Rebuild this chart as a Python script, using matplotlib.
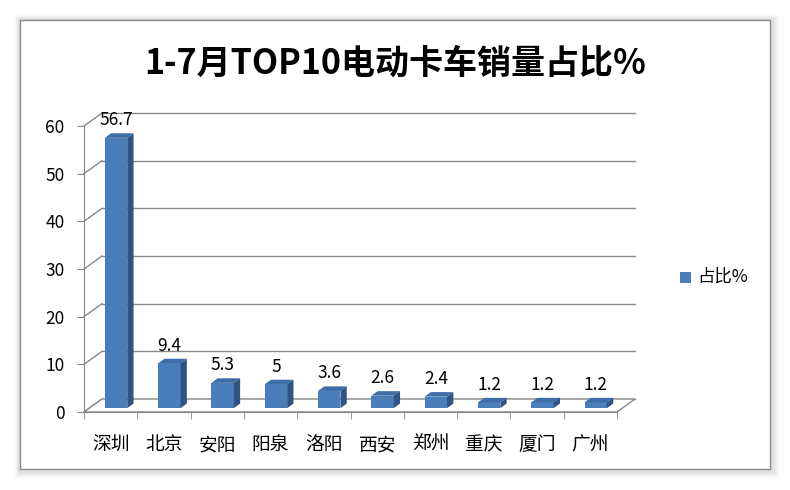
import matplotlib.pyplot as plt
from matplotlib.patches import Rectangle, Polygon

plt.rcParams['font.family'] = ['Noto Sans CJK SC', 'DejaVu Sans']

cities = ['深圳', '北京', '安阳', '阳泉', '洛阳', '西安', '郑州', '重庆', '厦门', '广州']
share = [56.7, 9.4, 5.3, 5, 3.6, 2.6, 2.4, 1.2, 1.2, 1.2]
labels = ['56.7', '9.4', '5.3', '5', '3.6', '2.6', '2.4', '1.2', '1.2', '1.2']
title = '1-7月TOP10电动卡车销量占比%'
legend_name = '占比%'

W, H = 790, 490
fig = plt.figure(figsize=(W / 100, H / 100), dpi=100)

# frame with soft shadow
for k in range(8, 0, -1):
    fig.patches.append(Rectangle(((20 - k * 0.6) / W, (H - 469 - k * 1.2) / H),
                                 (750 + k * 1.8) / W, (449 + k * 1.8) / H,
                                 transform=fig.transFigure, facecolor='black',
                                 alpha=0.018, edgecolor='none', zorder=0))
fig.patches.append(Rectangle((20 / W, (H - 469) / H), 750 / W, 449 / H,
                             transform=fig.transFigure, facecolor='white',
                             edgecolor='#8c8c8c', linewidth=1.0, zorder=1))

# front plane of the plot box
x0, x1, y0, y1 = 84, 617, 412, 126
ax = fig.add_axes([x0 / W, (H - y0) / H, (x1 - x0) / W, (y0 - y1) / H])
ax.set_zorder(5)
ax.set_xlim(-0.5, 9.5)
ax.set_ylim(0, 60)
ax.patch.set_alpha(0)

# depth offset in data units
dx = 18 / ((x1 - x0) / 10)
dy = 13 / ((y0 - y1) / 60)
grid_c = '#888888'

# back wall gridlines and side wall diagonals
for v in range(0, 70, 10):
    ax.plot([-0.5 + dx, 9.5 + dx], [v + dy, v + dy], color=grid_c, lw=1.0,
            clip_on=False, zorder=1)
    ax.plot([-0.5, -0.5 + dx], [v, v + dy], color=grid_c, lw=1.0,
            clip_on=False, zorder=1)

# floor
ax.add_patch(Polygon([(-0.5, 0), (9.5, 0), (9.5 + dx, dy), (-0.5 + dx, dy)],
                     closed=True, facecolor='white', edgecolor=grid_c, lw=1.0,
                     clip_on=False, zorder=2))

# 3D bars
f0, f1 = 0.3, 0.65
hw = 0.21
front_c, top_c, side_c = '#4A7EBB', '#3E6DA8', '#2E5482'
for i, v in enumerate(share):
    cx = i + f0 * dx
    by = f0 * dy
    bl, br = cx - hw, cx + hw
    ox, oy = (f1 - f0) * dx, (f1 - f0) * dy
    ax.add_patch(Polygon([(bl, by), (br, by), (br, by + v), (bl, by + v)],
                         facecolor=front_c, edgecolor='none', clip_on=False, zorder=5))
    ax.add_patch(Polygon([(bl, by + v), (br, by + v), (br + ox, by + v + oy), (bl + ox, by + v + oy)],
                         facecolor=top_c, edgecolor='none', clip_on=False, zorder=5))
    ax.add_patch(Polygon([(br, by), (br + ox, by + oy), (br + ox, by + v + oy), (br, by + v)],
                         facecolor=side_c, edgecolor='none', clip_on=False, zorder=5))
    ax.annotate(labels[i], (cx, by + v + oy), xytext=(0, 3), textcoords='offset points',
                ha='center', va='bottom', fontsize=12.5, color='black', zorder=6)

# axes styling
for s in ['top', 'right']:
    ax.spines[s].set_visible(False)
for s in ['left', 'bottom']:
    ax.spines[s].set_color(grid_c)
    ax.spines[s].set_zorder(3)
ax.set_yticks(range(0, 70, 10))
ax.tick_params(axis='y', colors=grid_c, length=5, labelsize=12.5, labelcolor='black', pad=9)
ax.set_xticks(range(10))
ax.set_xticklabels(cities)
ax.set_xticks([i - 0.5 for i in range(11)], minor=True)
ax.tick_params(axis='x', which='major', length=0, labelsize=13.5, pad=16)
ax.tick_params(axis='x', which='minor', length=5, color=grid_c)

fig.text(395 / W, 1 - 63 / H, title, ha='center', va='center', fontsize=24.5,
         fontweight='bold')

# legend
fig.patches.append(Rectangle((680 / W, 1 - 283 / H), 11 / W, 11 / H,
                             transform=fig.transFigure, facecolor=front_c,
                             edgecolor='none', zorder=3))
fig.text(697 / W, 1 - 277 / H, legend_name, ha='left', va='center', fontsize=12.5)

fig.savefig('out.png', dpi=100)
